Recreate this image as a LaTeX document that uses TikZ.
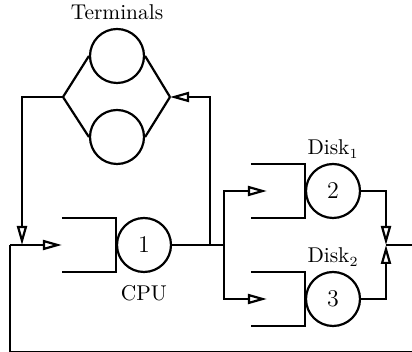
\documentclass[tikz,border=0pt]{standalone}
\usepackage{amsmath}
\usepackage{tikz}
\usetikzlibrary{arrows.meta,positioning}

\begin{document}
\begin{tikzpicture}[x=1pt,y=1pt,>={Triangle[open,length=9.5pt,width=5pt]},line width=1.1pt,
    every label/.style={font=\fontsize{10.7pt}{13pt}\selectfont}]
    \tikzstyle{station}=[circle,draw,minimum size=27pt,inner sep=0pt]
    \tikzstyle{queue}=[minimum width=27pt,minimum height=27pt,inner sep=0pt,outer sep=0pt]
    \useasboundingbox (0,0) rectangle (206,176);
    \begin{scope}
      % terminals
      \node[station,label={above:Terminals}](term1) at (58.5,148){};
      \node[station](term2) at (58.5,107.5){};
      \coordinate (tl) at (31.5,127.5);
      \coordinate (tr) at (85,127.5);
      % cpu
      \node[station,label={[label distance=2.5pt]below:CPU}](cpu) at (72,53.5){\large 1};
      \node[queue,left=0pt of cpu](cpuq){};
      % disks
      \node[station,label={[label distance=-1.5pt]above:Disk$_1$}](disk1) at (166.5,80.5){\large 2};
      \node[queue,left=0pt of disk1](disk1q){};
      \node[station,label={[label distance=-1.5pt]above:Disk$_2$}](disk2) at (166.5,26.5){\large 3};
      \node[queue,left=0pt of disk2](disk2q){};
      % junctions
      \coordinate (jl) at (5,53.5);
      \coordinate (jd) at (11,53.5);
      \coordinate (back) at (105,53.5);
      \coordinate (split) at (112,53.5);
      \coordinate (jr) at (193,53.5);
      \coordinate (fbr) at (215,-0.15);
    \end{scope}
    % queues
    \draw (cpuq.north west) -- (cpuq.north east) -- (cpuq.south east) -- (cpuq.south west);
    \draw (disk1q.north west) -- (disk1q.north east) -- (disk1q.south east) -- (disk1q.south west);
    \draw (disk2q.north west) -- (disk2q.north east) -- (disk2q.south east) -- (disk2q.south west);
    % terminals
    \draw (tl) -- (term1.west) (tl) -- (term2.west);
    \draw (tr) -- (term1.east) (tr) -- (term2.east);
    \draw[->] (tl) -| (jd);
    \draw[->] (back) |- (tr);
    % cpu to disks
    \draw (cpu) -- (split);
    \draw[->] (split) |- ([xshift=8pt]disk1q.west);
    \draw[->] (split) |- ([xshift=8pt]disk2q.west);
    \draw[->] (disk1) -| (jr);
    \draw[->] (disk2) -| (jr);
    % feedback
    \draw (jr) -| (fbr) -| (jl);
    \draw[->] (jl) -- (cpuq.west);
\end{tikzpicture}
\end{document}
